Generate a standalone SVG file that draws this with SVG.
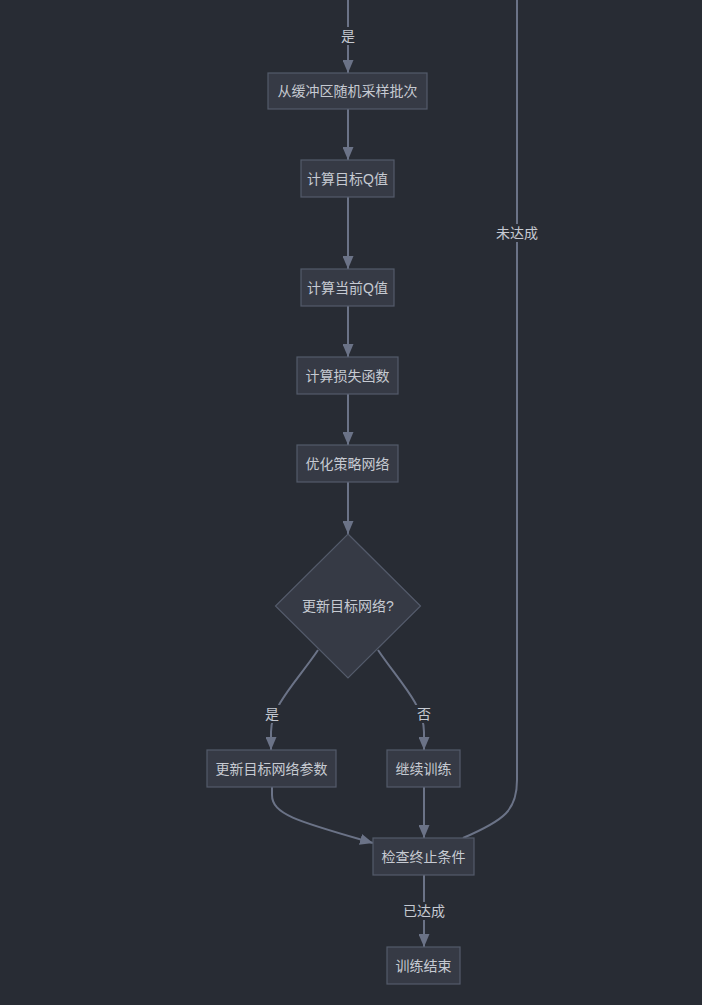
<svg xmlns="http://www.w3.org/2000/svg" width="702" height="1005" viewBox="0 0 702 1005">
<style>
.bg{fill:#282c34}
.node rect,.node polygon{fill:#363a45;stroke:#545b6b;stroke-width:1.2}
.lbl{font-family:"Liberation Sans","Noto Sans CJK SC",sans-serif;font-size:14px;fill:#c6cad2;text-anchor:middle;dominant-baseline:central}
.edge{fill:none;stroke:#6b7387;stroke-width:2}
.elbl rect{fill:#282c34}
</style>
<defs>
<marker id="arr" viewBox="0 0 13 11" refX="13" refY="5.5" markerWidth="13" markerHeight="11" markerUnits="userSpaceOnUse" orient="auto">
<path d="M0,0 L13,5.5 L0,11 Z" fill="#6b7387"/>
</marker>
</defs>
<rect class="bg" x="0" y="0" width="702" height="1005"/>
<g id="connectors">
<path class="edge" d="M348,0 L348,73" marker-end="url(#arr)"/>
<path class="edge" d="M348,109 L348,160" marker-end="url(#arr)"/>
<path class="edge" d="M348,197 L348,269" marker-end="url(#arr)"/>
<path class="edge" d="M348,306 L348,357" marker-end="url(#arr)"/>
<path class="edge" d="M348,394 L348,445" marker-end="url(#arr)"/>
<path class="edge" d="M348,482 L348,534" marker-end="url(#arr)"/>
<path class="edge" d="M318,650 C298,680 271,705 271,732 L271,750" marker-end="url(#arr)"/>
<path class="edge" d="M378,650 C398,680 424,705 424,732 L424,750" marker-end="url(#arr)"/>
<path class="edge" d="M272,787 L272,795 C272,815 300,822 373,843" marker-end="url(#arr)"/>
<path class="edge" d="M424,787 L424,838" marker-end="url(#arr)"/>
<path class="edge" d="M463,838 C505,820 517,810 517,780 L517,0"/>
<path class="edge" d="M424,875 L424,947" marker-end="url(#arr)"/>
<g class="elbl"><rect x="338" y="27" width="20" height="18"/><text class="lbl" x="348" y="36">是</text></g>
<g class="elbl"><rect x="495" y="224" width="44" height="18"/><text class="lbl" x="517" y="233">未达成</text></g>
<g class="elbl"><rect x="262" y="705" width="20" height="18"/><text class="lbl" x="272" y="714">是</text></g>
<g class="elbl"><rect x="414" y="705" width="20" height="18"/><text class="lbl" x="424" y="714">否</text></g>
<g class="elbl"><rect x="402" y="902" width="44" height="18"/><text class="lbl" x="424" y="911">已达成</text></g>
</g>
<g id="n1" class="node"><rect x="268" y="73" width="159" height="36"/><text class="lbl" x="347.5" y="91">从缓冲区随机采样批次</text></g>
<g id="n2" class="node"><rect x="301" y="160" width="93" height="37"/><text class="lbl" x="347.5" y="178.5">计算目标Q值</text></g>
<g id="n3" class="node"><rect x="301" y="269" width="93" height="37"/><text class="lbl" x="347.5" y="287.5">计算当前Q值</text></g>
<g id="n4" class="node"><rect x="297" y="357" width="101" height="37"/><text class="lbl" x="347.5" y="375.5">计算损失函数</text></g>
<g id="n5" class="node"><rect x="297" y="445" width="101" height="37"/><text class="lbl" x="347.5" y="463.5">优化策略网络</text></g>
<g id="n6" class="node"><polygon points="348,534 420.5,606 348,678 275.5,606"/><text class="lbl" x="348" y="606">更新目标网络?</text></g>
<g id="n7" class="node"><rect x="207" y="750" width="129" height="37"/><text class="lbl" x="271.5" y="768.5">更新目标网络参数</text></g>
<g id="n8" class="node"><rect x="387" y="750" width="73" height="37"/><text class="lbl" x="423.5" y="768.5">继续训练</text></g>
<g id="n9" class="node"><rect x="373" y="838" width="101" height="37"/><text class="lbl" x="423.5" y="856.5">检查终止条件</text></g>
<g id="n10" class="node"><rect x="387" y="947" width="73" height="37"/><text class="lbl" x="423.5" y="965.5">训练结束</text></g>
</svg>
